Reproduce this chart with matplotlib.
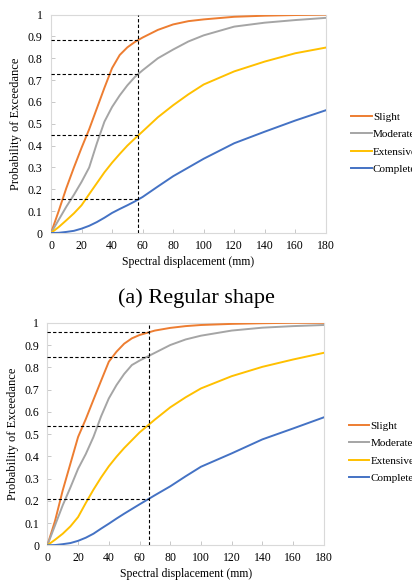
import matplotlib
matplotlib.use('Agg')
import matplotlib.pyplot as plt

plt.rcParams['font.family'] = ['Liberation Serif', 'DejaVu Serif']

# Spectral displacement (mm) at which the curves were read
sd = [0, 5, 10, 15, 20, 25, 30, 35, 40, 45, 50, 55, 60, 70, 80, 90, 100, 120, 140, 160, 180]
states = ['Slight', 'Moderate', 'Extensive', 'Complete']
colors = ['#ED7D31', '#A5A5A5', '#FFC000', '#4472C4']

# (a) regular shape
reg_slight = [0, 0.10, 0.205, 0.30, 0.39, 0.475, 0.57, 0.665, 0.755, 0.815, 0.85, 0.875, 0.895,
              0.93, 0.955, 0.97, 0.978, 0.99, 0.995, 0.998, 1.0]
reg_moderate = [0, 0.06, 0.12, 0.175, 0.234, 0.30, 0.41, 0.51, 0.577, 0.63, 0.676, 0.715, 0.745,
                0.80, 0.84, 0.877, 0.905, 0.945, 0.963, 0.975, 0.985]
reg_extensive = [0, 0.027, 0.058, 0.09, 0.127, 0.178, 0.228, 0.278, 0.322, 0.362, 0.40, 0.433, 0.465,
                 0.53, 0.585, 0.635, 0.68, 0.74, 0.785, 0.823, 0.849]
reg_complete = [0, 0.001, 0.005, 0.01, 0.02, 0.033, 0.05, 0.07, 0.092, 0.11, 0.127, 0.145, 0.165,
                0.213, 0.26, 0.30, 0.34, 0.411, 0.464, 0.515, 0.562]
reg_sd_mark = 57.3
reg_levels = [0.885, 0.728, 0.447, 0.155]

# (b) second shape
irr_slight = [0, 0.11, 0.247, 0.367, 0.487, 0.567, 0.654, 0.74, 0.825, 0.87, 0.906, 0.93, 0.945,
              0.965, 0.977, 0.985, 0.99, 0.995, 0.998, 1.0, 1.0]
irr_moderate = [0, 0.09, 0.18, 0.26, 0.344, 0.41, 0.487, 0.58, 0.66, 0.72, 0.77, 0.81, 0.83,
                0.865, 0.90, 0.925, 0.942, 0.965, 0.978, 0.985, 0.99]
irr_extensive = [0, 0.025, 0.052, 0.085, 0.127, 0.19, 0.25, 0.305, 0.355, 0.398, 0.437, 0.472, 0.507,
                 0.565, 0.62, 0.665, 0.705, 0.76, 0.802, 0.835, 0.865]
irr_complete = [0, 0.001, 0.005, 0.01, 0.02, 0.034, 0.052, 0.075, 0.097, 0.12, 0.142, 0.163, 0.184,
                0.225, 0.265, 0.31, 0.353, 0.413, 0.476, 0.525, 0.575]
irr_sd_mark = 66.0
irr_levels = [0.958, 0.844, 0.537, 0.207]

fig = plt.figure(figsize=(4.12, 5.84), dpi=100)
ax1 = fig.add_axes([0.1238, 0.601, 0.667, 0.374])
ax2 = fig.add_axes([0.115, 0.0663, 0.671, 0.381])


def draw(ax, curves, x_mark, levels, leg_x, leg_y):
    for vals, name, c in zip(curves, states, colors):
        ax.plot(sd, vals, color=c, lw=1.4, label=name, zorder=3,
                solid_joinstyle='round')
    for lv in levels:
        ax.plot([0, x_mark], [lv, lv], color='black', lw=0.8, ls=(0, (3, 2)), zorder=4)
    ax.plot([x_mark, x_mark], [0, 1], color='black', lw=0.8, ls=(0, (3, 2)), zorder=4)
    ax.set_xlim(0, 180)
    ax.set_ylim(0, 1)
    ax.set_xticks(range(0, 181, 20))
    ax.set_yticks([i / 10 for i in range(11)])
    ax.set_yticklabels(['0'] + ['%.1f' % (i / 10) for i in range(1, 10)] + ['1'])
    for s in ax.spines.values():
        s.set_color('#D9D9D9')
        s.set_linewidth(0.8)
    ax.tick_params(direction='in', length=3, width=0.6, color='#BFBFBF',
                   labelsize=8.5, pad=6)
    ax.tick_params(axis='x', pad=5)
    ax.set_xlabel('Spectral displacement (mm)', fontsize=8.5, labelpad=3)
    ax.set_ylabel('Probability of Exceedance', fontsize=9, labelpad=4)
    fig.legend(handles=ax.get_lines()[:4], loc='center left',
               bbox_to_anchor=(leg_x, leg_y), frameon=False, fontsize=8,
               handlelength=1.85, handletextpad=0.1, labelspacing=0.68,
               borderpad=0)


draw(ax1, [reg_slight, reg_moderate, reg_extensive, reg_complete],
     reg_sd_mark, reg_levels, 0.839, 0.755)
draw(ax2, [irr_slight, irr_moderate, irr_extensive, irr_complete],
     irr_sd_mark, irr_levels, 0.833, 0.226)

fig.text(0.478, 0.49, '(a) Regular shape', fontsize=16, ha='center', va='center')

fig.savefig('out.png', dpi=100)
